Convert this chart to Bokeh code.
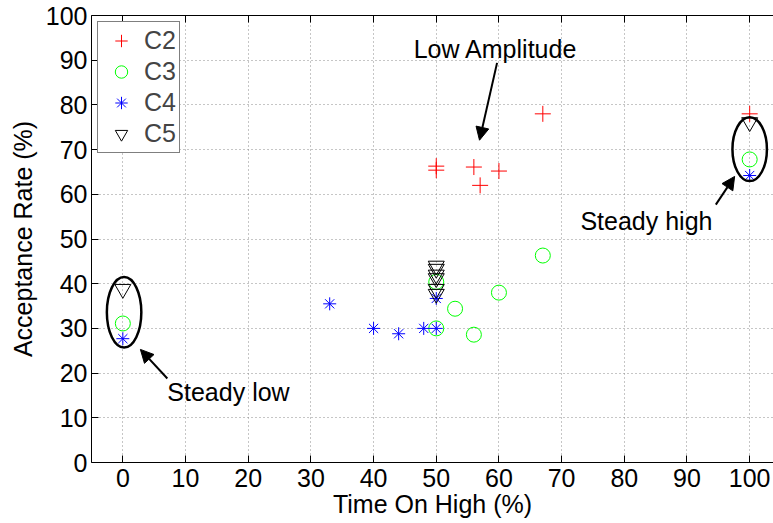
from bokeh.plotting import figure
from bokeh.models import (Range1d, FixedTicker, LinearAxis, Legend, LegendItem,
                          Arrow, NormalHead, Label)
from bokeh.embed import file_html
from bokeh.resources import INLINE

# ---- data ----
x_ticks = [0, 10, 20, 30, 40, 50, 60, 70, 80, 90, 100]
y_ticks = [0, 10, 20, 30, 40, 50, 60, 70, 80, 90, 100]

c2_x = [50, 50, 56, 57, 60, 67, 100]
c2_y = [66.3, 65.4, 66.1, 62.0, 65.2, 78.0, 78.0]

c3_x = [0, 50, 50, 53, 56, 60, 67, 100]
c3_y = [31.1, 40.4, 30.0, 34.4, 28.6, 38.0, 46.3, 67.8]

c4_x = [0, 33, 40, 44, 48, 50, 50, 100]
c4_y = [27.7, 35.5, 30.0, 28.8, 30.0, 30.0, 36.7, 64.2]

c5_x = [0, 50, 50, 50, 50, 50, 50, 100]
c5_y = [38.8, 44.0, 43.3, 42.0, 41.2, 38.8, 37.7, 76.1]

# highlight ellipses (centre, size in data units)
ell_x = [0.2, 100]
ell_y = [33.6, 70.1]
ell_w = [5.5, 5.5]
ell_h = [15.8, 14.3]

# annotations: text, text position, arrow start, arrow end
ann_text = ["Low Amplitude", "Steady high", "Steady low"]
ann_tx = [46.4, 73.0, 7.1]
ann_ty = [92.6, 54.1, 15.7]
arr_x0 = [59.7, 94.6, 7.1]
arr_y0 = [89.4, 57.7, 18.8]
arr_x1 = [56.9, 97.6, 2.8]
arr_y1 = [72.1, 64.0, 25.3]

FONT = "Liberation Sans"
FS = "25px"

p = figure(width=773, height=523, output_backend="svg", toolbar_location=None,
           x_range=Range1d(-5, 103.8), y_range=Range1d(0, 100),
           min_border_left=91, min_border_right=0, min_border_top=15,
           min_border_bottom=61)
p.outline_line_color = None
p.background_fill_color = "white"
p.border_fill_color = "white"

for ax, ticks in ((p.xaxis[0], x_ticks), (p.yaxis[0], y_ticks)):
    ax.ticker = FixedTicker(ticks=ticks)
    ax.major_label_text_font = FONT
    ax.major_label_text_font_size = FS
    ax.major_label_text_color = "black"
    ax.axis_label_text_font = FONT
    ax.axis_label_text_font_size = FS
    ax.axis_label_text_font_style = "normal"
    ax.axis_label_text_color = "black"
    ax.major_tick_in = 7
    ax.major_tick_out = 0
    ax.minor_tick_line_color = None
    ax.axis_line_color = "black"
    ax.major_tick_line_color = "black"

p.xaxis.axis_label = "Time On High (%)"
p.yaxis.axis_label = "Acceptance Rate (%)"
p.xaxis.major_label_standoff = 6
p.xaxis.axis_label_standoff = 0
p.yaxis.major_label_standoff = 4
p.yaxis.axis_label_standoff = 6

top = LinearAxis(ticker=FixedTicker(ticks=x_ticks), major_tick_in=7, major_tick_out=0,
                 minor_tick_line_color=None, major_label_text_font_size="1px",
                 major_label_text_alpha=0, major_label_standoff=0,
                 axis_line_color="black")
p.add_layout(top, "above")

p.xgrid.ticker = FixedTicker(ticks=x_ticks)
p.ygrid.ticker = FixedTicker(ticks=y_ticks)
p.grid.grid_line_color = "#8c8c8c"
p.grid.grid_line_dash = "1 3"
p.grid.grid_line_width = 1

r2 = p.scatter(c2_x, c2_y, marker="cross", size=16, line_color="#ff0000", line_width=1)
r3 = p.scatter(c3_x, c3_y, marker="circle", size=15, fill_color=None,
               line_color="#00ff00", line_width=1)
r4 = p.scatter(c4_x, c4_y, marker="asterisk", size=13, line_color="#0000ff", line_width=1)
r5 = p.scatter(c5_x, c5_y, marker="inverted_triangle", size=16, fill_color=None,
               line_color="black", line_width=1)

p.ellipse(x=ell_x, y=ell_y, width=ell_w, height=ell_h, fill_color=None,
          line_color="black", line_width=2.5)

for i in range(len(ann_text)):
    p.add_layout(Arrow(end=NormalHead(size=13, fill_color="black", line_color="black"),
                       x_start=arr_x0[i], y_start=arr_y0[i],
                       x_end=arr_x1[i], y_end=arr_y1[i],
                       line_width=2, line_color="black"))
    p.add_layout(Label(x=ann_tx[i], y=ann_ty[i], text=ann_text[i],
                       text_font=FONT, text_font_size=FS, text_color="black",
                       text_baseline="alphabetic", text_align="left"))

legend = Legend(items=[LegendItem(label="C2", renderers=[r2]),
                       LegendItem(label="C3", renderers=[r3]),
                       LegendItem(label="C4", renderers=[r4]),
                       LegendItem(label="C5", renderers=[r5])],
                location="top_left", margin=6, padding=3, spacing=0,
                glyph_width=40, glyph_height=31, label_height=31,
                label_standoff=3, label_text_font=FONT, label_text_font_size=FS,
                border_line_color="black", border_line_width=1.5,
                background_fill_alpha=1.0)
p.add_layout(legend)

open("out.html", "w").write(file_html(p, INLINE))
